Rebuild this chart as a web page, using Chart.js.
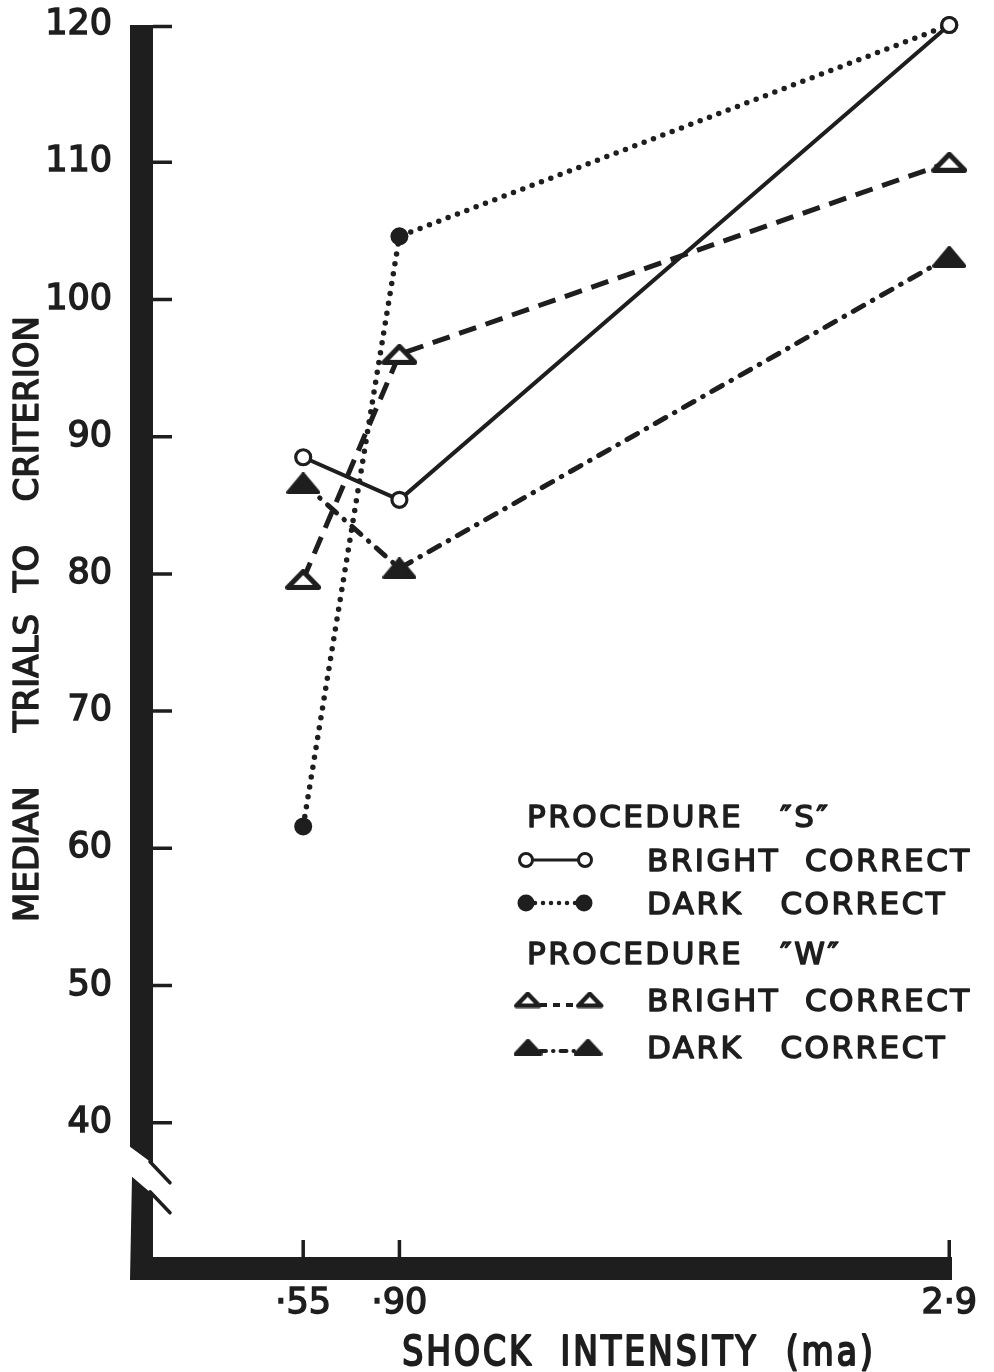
<!DOCTYPE html>
<html>
<head>
<meta charset="utf-8">
<script src="https://cdn.jsdelivr.net/npm/chart.js@4.4.1/dist/chart.umd.min.js"></script>
<style>
  html, body { margin: 0; background: #fff; }
  canvas { display: block; }
</style>
</head>
<body>
<canvas id="chart" width="994" height="1372"></canvas>
<script>
// shock intensity (ma) and the median trials to criterion at each level
const shockLevels = [0.55, 0.90, 2.9]
const xTickLabels = ['·55', '·90', '2·9']
const yTickValues = [40, 50, 60, 70, 80, 90, 100, 110, 120]

const brightCorrectS = [88.5, 85.4, 120]
const darkCorrectS = [61.6, 104.6, 120]
const brightCorrectW = [79.6, 96.0, 110]
const darkCorrectW = [86.6, 80.4, 103.1]

const xTitle = 'SHOCK  INTENSITY  (ma)'
const yTitle = 'MEDIAN     TRIALS  TO    CRITERION'

const ink = '#1e1e1e'
const fontFamily = '"DejaVu Sans", sans-serif'

// flattened triangle markers, open or solid
function triangleMark(w, h, lw, filled) {
  const c = document.createElement('canvas')
  c.width = Math.ceil(w + lw)
  c.height = Math.ceil(h + lw)
  const g = c.getContext('2d')
  g.lineJoin = 'round'
  g.lineWidth = lw
  g.strokeStyle = ink
  g.fillStyle = filled ? ink : '#fff'
  g.beginPath()
  g.moveTo(lw / 2, lw / 2 + h)
  g.lineTo(lw / 2 + w / 2, lw / 2)
  g.lineTo(lw / 2 + w, lw / 2 + h)
  g.closePath()
  g.fill()
  g.stroke()
  return c
}

const openTriangle = triangleMark(31, 16, 5, false)
const solidTriangle = triangleMark(30, 18, 4, true)
const openTriangleSmall = triangleMark(23, 12, 4.5, false)
const solidTriangleSmall = triangleMark(26, 14, 3, true)

const toPoints = values => shockLevels.map((x, i) => ({ x, y: values[i] }))

const datasets = [
  {
    label: 'BRIGHT CORRECT S',
    data: toPoints(brightCorrectS),
    borderColor: ink,
    borderWidth: 4,
    pointStyle: 'circle',
    pointRadius: 7.5,
    pointBorderWidth: 3.2,
    pointBackgroundColor: '#fff',
    pointBorderColor: ink
  },
  {
    label: 'DARK CORRECT S',
    data: toPoints(darkCorrectS),
    borderColor: ink,
    borderWidth: 5.5,
    borderDash: [0, 10],
    borderCapStyle: 'round',
    pointStyle: 'circle',
    pointRadius: 9,
    pointBorderWidth: 0,
    pointBackgroundColor: ink,
    pointBorderColor: ink
  },
  {
    label: 'BRIGHT CORRECT W',
    data: toPoints(brightCorrectW),
    borderColor: ink,
    borderWidth: 5,
    borderDash: [18, 10],
    pointStyle: openTriangle,
    pointRadius: 12
  },
  {
    label: 'DARK CORRECT W',
    data: toPoints(darkCorrectW),
    borderColor: ink,
    borderWidth: 5,
    borderDash: [12, 10, 0.5, 10],
    borderCapStyle: 'round',
    pointStyle: solidTriangle,
    pointRadius: 12
  }
]
datasets.forEach(ds => {
  ds.fill = false
  ds.tension = 0
  ds.clip = false
})

// fill plus a thin stroke gives the heavier pen lettering
function inkText(ctx, text, x, y, stroke) {
  ctx.fillText(text, x, y)
  ctx.lineWidth = stroke
  ctx.strokeText(text, x, y)
}

// thick drawn axes with a break in the ordinate, inward tick marks
const heavyAxes = {
  id: 'heavyAxes',
  beforeDatasetsDraw(chart) {
    const { ctx, chartArea, scales } = chart
    const { left, bottom, top } = chartArea
    const yb = scales.y.getPixelForValue(36.5)
    const barL = left - 22
    const barR = left + 1

    ctx.save()
    ctx.fillStyle = ink
    ctx.strokeStyle = ink

    // upper piece of the ordinate
    ctx.beginPath()
    ctx.moveTo(barL, top)
    ctx.lineTo(barR, top)
    ctx.lineTo(barR, yb - 7)
    ctx.lineTo(barL, yb - 24)
    ctx.closePath()
    ctx.fill()
    // lower piece joined to the abscissa bar
    ctx.beginPath()
    ctx.moveTo(barL + 2, yb + 6)
    ctx.lineTo(barR, yb + 24)
    ctx.lineTo(barR, bottom - 3)
    ctx.lineTo(scales.x.right, bottom - 3)
    ctx.lineTo(scales.x.right, bottom + 20)
    ctx.lineTo(barL, bottom + 20)
    ctx.closePath()
    ctx.fill()

    ctx.lineWidth = 3.5
    ctx.lineCap = 'round'
    ctx.beginPath()
    ctx.moveTo(barR - 3, yb - 9)
    ctx.lineTo(left + 18, yb + 12)
    ctx.moveTo(barR - 3, yb + 21)
    ctx.lineTo(left + 18, yb + 42)
    ctx.stroke()

    ctx.lineCap = 'butt'
    ctx.beginPath()
    yTickValues.forEach(v => {
      const y = scales.y.getPixelForValue(v) + (v === 120 ? 1.5 : 0)
      ctx.moveTo(barR, y)
      ctx.lineTo(left + 20, y)
    })
    shockLevels.forEach(v => {
      const x = scales.x.getPixelForValue(v)
      ctx.moveTo(x, bottom - 3)
      ctx.lineTo(x, bottom - 20)
    })
    ctx.stroke()
    ctx.restore()
  },

  afterDraw(chart) {
    const { ctx } = chart
    ctx.save()
    ctx.fillStyle = ink
    ctx.strokeStyle = ink
    ctx.lineJoin = 'round'
    ctx.textAlign = 'center'
    ctx.textBaseline = 'alphabetic'

    ctx.save()
    ctx.font = '34px ' + fontFamily
    ctx.translate(38, 619)
    ctx.rotate(-Math.PI / 2)
    inkText(ctx, yTitle, 0, 0, 1.5)
    ctx.restore()

    ctx.save()
    ctx.font = '33px ' + fontFamily
    ctx.letterSpacing = '3px'
    ctx.translate(639, 1365)
    ctx.scale(1, 1.22)
    inkText(ctx, xTitle, 0, 0, 1.8)
    ctx.restore()

    ctx.restore()
  }
}

// legend grouped by procedure, with a short sample of each line
const legendBlock = {
  id: 'legendBlock',
  afterDraw(chart) {
    const { ctx } = chart
    const rows = [
      { text: 'PROCEDURE   ″S″', y: 816 },
      { text: 'BRIGHT  CORRECT', y: 860, sample: 'openCircle' },
      { text: 'DARK   CORRECT', y: 903, sample: 'dots' },
      { text: 'PROCEDURE   ″W″', y: 953 },
      { text: 'BRIGHT  CORRECT', y: 1000, sample: 'openTri' },
      { text: 'DARK   CORRECT', y: 1047, sample: 'solidTri' }
    ]
    const x1 = 526
    const x2 = 586

    ctx.save()
    ctx.fillStyle = ink
    ctx.strokeStyle = ink
    ctx.lineJoin = 'round'
    ctx.font = '31px ' + fontFamily
    ctx.letterSpacing = '2.5px'
    ctx.textAlign = 'left'
    ctx.textBaseline = 'alphabetic'

    rows.forEach(row => {
      const base = row.y + 11
      if (!row.sample) {
        inkText(ctx, row.text, x1 + 1, base, 1.5)
        return
      }
      inkText(ctx, row.text, 647, base, 1.5)

      const y = row.y
      ctx.save()
      ctx.letterSpacing = '0px'
      if (row.sample === 'openCircle') {
        ctx.lineWidth = 3
        ctx.beginPath()
        ctx.moveTo(x1, y)
        ctx.lineTo(x2, y)
        ctx.stroke()
        ;[x1, x2 - 1].forEach(cx => {
          ctx.beginPath()
          ctx.arc(cx, y, 6.5, 0, Math.PI * 2)
          ctx.fillStyle = '#fff'
          ctx.fill()
          ctx.stroke()
        })
      } else if (row.sample === 'dots') {
        ctx.lineWidth = 4.5
        ctx.lineCap = 'round'
        ctx.setLineDash([0, 8])
        ctx.beginPath()
        ctx.moveTo(x1 + 9, y)
        ctx.lineTo(x2 - 9, y)
        ctx.stroke()
        ctx.setLineDash([])
        ;[x1, x2 - 2].forEach(cx => {
          ctx.beginPath()
          ctx.arc(cx, y, 8.5, 0, Math.PI * 2)
          ctx.fill()
        })
      } else if (row.sample === 'openTri') {
        ctx.lineWidth = 4
        ctx.setLineDash([7, 6])
        ctx.beginPath()
        ctx.moveTo(x1 + 14, y + 5)
        ctx.lineTo(x2 - 10, y + 5)
        ctx.stroke()
        ;[x1 + 2, x2 + 4].forEach(cx => {
          ctx.drawImage(openTriangleSmall, cx - openTriangleSmall.width / 2, y - openTriangleSmall.height / 2)
        })
      } else {
        ctx.lineWidth = 4
        ctx.lineCap = 'round'
        ctx.setLineDash([6, 7, 0.5, 7])
        ctx.beginPath()
        ctx.moveTo(x1 + 14, y + 4)
        ctx.lineTo(x2 - 8, y + 4)
        ctx.stroke()
        ;[x1 + 2, x2 + 2].forEach(cx => {
          ctx.drawImage(solidTriangleSmall, cx - solidTriangleSmall.width / 2, y - solidTriangleSmall.height / 2)
        })
      }
      ctx.restore()
    })
    ctx.restore()
  }
}

const tickFont = { family: fontFamily, size: 35 }

new Chart(document.getElementById('chart').getContext('2d'), {
  type: 'line',
  data: { datasets },
  plugins: [heavyAxes, legendBlock],
  options: {
    responsive: false,
    animation: false,
    devicePixelRatio: 1,
    layout: { padding: 0 },
    plugins: {
      legend: { display: false },
      tooltip: { enabled: false }
    },
    scales: {
      x: {
        type: 'linear',
        min: 0,
        max: 2.91,
        afterFit: scale => {
          scale.height = 112
          scale.paddingLeft = 0
          scale.paddingRight = 42
        },
        afterBuildTicks: scale => { scale.ticks = shockLevels.map(value => ({ value })) },
        grid: { display: false, drawTicks: false },
        border: { display: false },
        ticks: {
          autoSkip: false,
          maxRotation: 0,
          padding: 23,
          color: ink,
          font: tickFont,
          textStrokeColor: ink,
          textStrokeWidth: 1.5,
          callback: (value, index) => xTickLabels[index]
        }
      },
      y: {
        type: 'linear',
        min: 30,
        max: 120,
        afterFit: scale => {
          scale.width = 152
          scale.paddingTop = 25
          scale.paddingBottom = 0
        },
        afterBuildTicks: scale => { scale.ticks = yTickValues.map(value => ({ value })) },
        grid: { display: false, drawTicks: false },
        border: { display: false },
        ticks: {
          autoSkip: false,
          padding: 40,
          color: ink,
          font: tickFont,
          textStrokeColor: ink,
          textStrokeWidth: 1.5
        }
      }
    }
  }
})
</script>
</body>
</html>
